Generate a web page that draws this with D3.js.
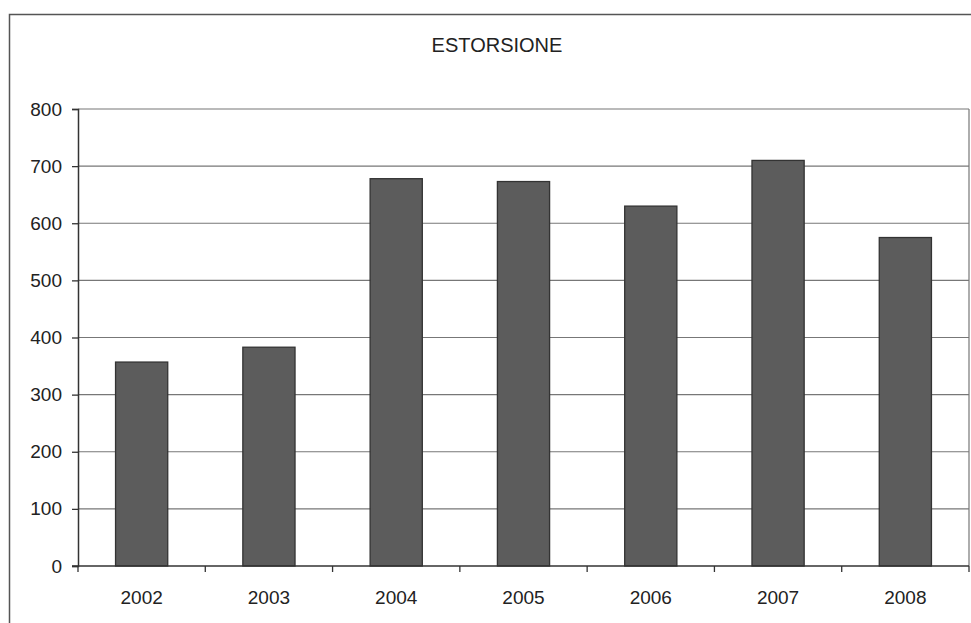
<!DOCTYPE html>
<html>
<head>
<meta charset="utf-8">
<script src="https://cdnjs.cloudflare.com/ajax/libs/d3/7.8.5/d3.min.js"></script>
<style>
  body { margin: 0; background: #fff; }
  text { font-family: "Liberation Sans", Arial, sans-serif; fill: #222; }
</style>
</head>
<body>
<svg id="chart" width="971" height="623"></svg>
<script>
var years = ["2002", "2003", "2004", "2005", "2006", "2007", "2008"];
var values = [357, 383, 678, 673, 630, 710, 575];
var yTicks = [0, 100, 200, 300, 400, 500, 600, 700, 800];
var title = "ESTORSIONE";

var svg = d3.select("#chart");
var mLeft = 78, mRight = 969, mTop = 109, mBottom = 566;

// outer frame of the chart area
svg.append("path")
   .attr("d", "M9.5,623 L9.5,14.5 L971,14.5")
   .attr("fill", "none")
   .attr("stroke", "#555")
   .attr("stroke-width", 1.5);

svg.append("text")
   .attr("x", 497).attr("y", 52)
   .attr("text-anchor", "middle")
   .style("font-size", "20px")
   .text(title);

var x = d3.scaleBand().domain(years).range([mLeft, mRight]).paddingInner(0.59).paddingOuter(0.295);
var xb = d3.scaleBand().domain(years).range([mLeft, mRight]);
var y = d3.scaleLinear().domain([0, 800]).range([mBottom, mTop]);

// gridlines
svg.selectAll("line.grid")
   .data(yTicks.slice(1))
   .enter()
   .append("line")
   .attr("class", "grid")
   .attr("x1", mLeft).attr("x2", mRight)
   .attr("y1", function(d) { return y(d); })
   .attr("y2", function(d) { return y(d); })
   .attr("stroke", "#777")
   .attr("stroke-width", 1.2);

// plot right border
svg.append("line")
   .attr("x1", mRight).attr("x2", mRight)
   .attr("y1", mTop).attr("y2", mBottom)
   .attr("stroke", "#777").attr("stroke-width", 1.2);

// bars
svg.selectAll("rect.bar")
   .data(values)
   .enter()
   .append("rect")
   .attr("class", "bar")
   .attr("x", function(d, i) { return x(years[i]); })
   .attr("width", x.bandwidth())
   .attr("y", function(d) { return y(d); })
   .attr("height", function(d) { return y(0) - y(d); })
   .attr("fill", "#5c5c5c")
   .attr("stroke", "#333")
   .attr("stroke-width", 1.3);

// y axis
var yAxis = d3.axisLeft(y).tickValues(yTicks).tickSize(6).tickPadding(10);
var gy = svg.append("g").attr("transform", "translate(" + mLeft + ",0)").call(yAxis);
gy.select(".domain").attr("stroke", "#333").attr("stroke-width", 1.5);
gy.selectAll(".tick line").attr("stroke", "#333").attr("stroke-width", 1.3);
gy.selectAll("text").style("font-size", "19px").attr("font-family", null);

// x axis: ticks at category boundaries
var gx = svg.append("g").attr("transform", "translate(0," + mBottom + ")");
gx.append("line")
  .attr("x1", mLeft - 6).attr("x2", mRight)
  .attr("stroke", "#333").attr("stroke-width", 1.5);
gx.selectAll("line.tk")
  .data(years.slice(1).concat(["end"]))
  .enter()
  .append("line")
  .attr("class", "tk")
  .attr("x1", function(d) { return d === "end" ? mRight : xb(d); })
  .attr("x2", function(d) { return d === "end" ? mRight : xb(d); })
  .attr("y1", 0).attr("y2", 6)
  .attr("stroke", "#333").attr("stroke-width", 1.3);
gx.append("line")
  .attr("x1", mLeft).attr("x2", mLeft).attr("y1", 0).attr("y2", 6)
  .attr("stroke", "#333").attr("stroke-width", 1.3);
gx.selectAll("text")
  .data(years)
  .enter()
  .append("text")
  .attr("x", function(d) { return xb(d) + xb.bandwidth() / 2; })
  .attr("y", 38)
  .attr("text-anchor", "middle")
  .style("font-size", "19px")
  .text(function(d) { return d; });
</script>
</body>
</html>
